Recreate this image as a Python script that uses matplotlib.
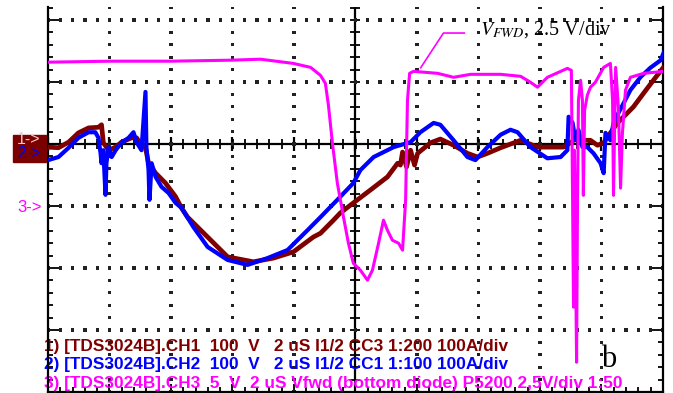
import numpy as np
import matplotlib.pyplot as plt
from matplotlib.patches import Rectangle

plt.rcParams["mathtext.fontset"] = "stix"

# scope settings: 2 us/div, CH1/CH2 100 A/div, CH3 (Vfwd) 2.5 V/div
US_PER_DIV = 2.0
A_PER_DIV = 100.0
V_PER_DIV = 2.5
CH3_ZERO = -1.02  # divisions, where the "3->" marker sits

# CH1 current (dark red), time in us, current in A
t1 = [-10.0, -9.66, -9.33, -9.01, -8.68, -8.36, -8.26, -8.20, -8.03, -7.80, -7.61, -7.28,
      -7.12, -6.96, -6.83, -6.73, -6.50, -6.18, -5.85, -5.66, -5.46, -4.81, -4.16, -3.32,
      -2.67, -2.02, -1.37, -1.14, -0.72, -0.49, -0.07, 0.49, 1.04, 1.37, 1.46, 1.53, 1.66,
      1.79, 1.92, 2.02, 2.44, 2.76, 3.19, 3.64, 3.97, 4.29, 4.72, 5.37, 5.92, 6.76, 6.99,
      7.22, 7.32, 7.64, 7.87, 8.07, 8.29, 8.52, 8.72, 9.04, 9.37, 9.69, 10.02]
i1 = [-5, -6, 3, 18, 26, 27, 31, 2, -10, -5, 3, 10,
      10, -2, -6, -31, -47, -63, -85, -103, -118, -150, -182, -190,
      -184, -174, -150, -144, -123, -111, -95, -74, -53, -31, -34, -13, -37,
      -10, -34, -15, 2, 8, -2, -15, -21, -15, -6, 6, -5, -5, 2,
      11, 6, 6, -2, 2, 18, 34, 44, 60, 82, 103, 124]

# CH2 current (blue)
t2 = [-10.0, -9.66, -9.33, -9.01, -8.68, -8.46, -8.36, -8.29, -8.26, -8.20, -8.13, -8.10,
      -8.03, -7.93, -7.80, -7.61, -7.38, -7.22, -7.12, -6.96, -6.83, -6.80, -6.73, -6.70,
      -6.63, -6.50, -6.31, -6.08, -5.85, -5.66, -5.27, -4.81, -4.16, -3.51, -2.86, -2.21,
      -1.56, -1.14, -0.59, -0.07, 0.16, 0.59, 1.24, 1.79, 2.11, 2.54, 2.76, 3.19, 3.64,
      3.90, 4.29, 4.72, 5.04, 5.27, 5.69, 6.24, 6.67, 6.89, 6.93, 7.06, 7.15, 7.25, 7.38,
      7.54, 7.74, 7.97, 8.07, 8.13, 8.29, 8.39, 8.55, 8.72, 8.94, 9.27, 9.59, 9.92, 10.02]
i2 = [-26, -21, -6, 10, 19, 19, 10, -15, -31, -10, -82, -31,
      -5, -21, -10, 2, 10, 19, 3, -10, 84, -5, -42, -90,
      -31, -53, -69, -79, -95, -103, -134, -166, -187, -195, -184, -171,
      -139, -118, -90, -63, -42, -21, -5, 3, 19, 34, 31, 6, -21,
      -26, -5, 15, 23, 19, -5, -23, -21, -10, 44, 34, 6, 23, -5,
      -5, -15, -31, -47, 18, 6, 34, 50, 66, 87, 108, 123, 135, 147]

# CH3 forward voltage of the bottom diode (magenta), V
t3 = [-10.0, -7.97, -6.02, -4.07, -3.09, -2.02, -1.46, -1.14, -0.98, -0.88, -0.75, -0.59,
      -0.39, -0.23, -0.07, 0.16, 0.39, 0.55, 0.75, 0.91, 1.04, 1.20, 1.40, 1.53, 1.63,
      1.69, 1.76, 1.89, 2.67, 3.19, 3.74, 4.72, 5.37, 5.69, 5.92, 6.24, 6.89, 7.02, 7.06,
      7.09, 7.12, 7.19, 7.22, 7.25, 7.32, 7.38, 7.41, 7.45, 7.54, 7.64, 7.80, 8.07, 8.29,
      8.36, 8.39, 8.46, 8.55, 8.62, 8.68, 8.78, 8.94, 9.37, 10.02]
v3 = [5.85, 5.89, 5.89, 5.93, 5.97, 5.80, 5.64, 5.32, 5.00, 4.11, 2.58, 0.97,
      -0.40, -1.45, -2.26, -2.54, -2.94, -2.54, -1.45, -0.52, -0.93, -1.33, -1.45, -1.73, 0.28,
      4.31, 5.40, 5.48, 5.40, 5.24, 5.36, 5.36, 5.28, 5.04, 4.84, 5.24, 5.60, 5.52, 0.28,
      -4.03, 2.30, -6.25, 0.28, 4.31, 5.12, 4.31, 0.48, 3.91, 4.52, 4.84, 5.04, 5.64, 5.80,
      4.31, 0.48, 5.64, 4.03, 0.77, 2.98, 4.72, 5.24, 5.40, 5.48]

legend_lines = [
    "1) [TDS3024B].CH1  100  V   2 uS I1/2 CC3 1:200 100A/div",
    "2) [TDS3024B].CH2  100  V   2 uS I1/2 CC1 1:100 100A/div",
    "3) [TDS3024B].CH3  5  V  2 uS Vfwd (bottom diode) P5200 2,5V/div 1:50",
]

c_ch1 = "#800000"
c_ch2 = "#0000ff"
c_ch3 = "#ff00ff"

W, H = 673, 393
fig = plt.figure(figsize=(W / 100, H / 100), dpi=100)
ax = fig.add_axes([48 / W, 1 / H, 615 / W, 385 / H])
ax.set_xlim(-5, 5)
ax.set_ylim(-4, 2.21)

# graticule: dotted lines at every division, one dot per minor step
minor = np.arange(-5, 5.001, 0.2)
yminor = np.arange(-4, 2.21, 0.2)
gx, gy = [], []
for g in range(-4, 5):
    if g != 0:
        gx += [g] * len(yminor)
        gy += list(yminor)
for g in range(-3, 3):
    if g != 0:
        gx += list(minor)
        gy += [g] * len(minor)
ax.scatter(gx, gy, s=5.5, marker="s", c="#222222", edgecolors="none", zorder=2.2)

# center cross with ticks
ax.axhline(0, color="k", lw=1.6, zorder=2)
ax.axvline(0, color="k", lw=1.6, zorder=2)
ax.plot(minor, np.zeros(len(minor)), ls="none", marker="|", ms=7, mew=1.3, color="k", zorder=2)
ax.plot(np.zeros(len(yminor)), yminor, ls="none", marker="_", ms=7, mew=1.3, color="k", zorder=2)
ax.plot(np.arange(-5, 6), np.zeros(11), ls="none", marker="|", ms=10, mew=1.6, color="k", zorder=2)

# border ticks
ax.set_xticks(np.arange(-5, 6))
ax.set_xticks(minor, minor=True)
ax.set_yticks(np.arange(-4, 3))
ax.set_yticks(yminor, minor=True)
ax.tick_params(which="both", direction="in", labelbottom=False, labelleft=False,
               left=True, right=True, bottom=True, top=False, width=1.3, color="k")
ax.tick_params(axis="y", which="major", length=8.5)
ax.tick_params(axis="x", which="major", length=6)
ax.tick_params(which="minor", length=3.5)
ax.spines["top"].set_visible(False)
for s in ("left", "right", "bottom"):
    ax.spines[s].set_linewidth(1.6)

# traces, converted to divisions
ax.plot(np.array(t1) / US_PER_DIV, np.array(i1) / A_PER_DIV, color=c_ch1, lw=3.4, zorder=3)
ax.plot(np.array(t2) / US_PER_DIV, np.array(i2) / A_PER_DIV, color=c_ch2, lw=3.0, zorder=3.1)
ax.plot(np.array(t3) / US_PER_DIV, np.array(v3) / V_PER_DIV + CH3_ZERO, color=c_ch3, lw=2.2, zorder=3.2)

# leader line for the Vfwd label
ax.plot([1.06, 1.43, 1.77], [1.23, 1.79, 1.79], color=c_ch3, lw=1.2, zorder=3.2)
ax.text(2.02, 1.85, r"$V_{FWD}$, 2.5 V/div", fontsize=14.5, family="Liberation Serif",
        va="center", ha="left", zorder=4)
ax.text(3.99, -3.47, "b", fontsize=22, family="Liberation Serif", va="center", ha="left", zorder=4)

# channel info lines at the bottom
for k, (line, c) in enumerate(zip(legend_lines, [c_ch1, c_ch2, c_ch3])):
    ax.text(-5.06, -3.26 - 0.30 * k, line, color=c, fontsize=12.4, fontweight="bold",
            family="Liberation Sans", va="center", ha="left", zorder=2.5, clip_on=False)

# channel ground markers on the left
fig.patches.append(Rectangle((13 / W, (H - 162) / H), 33 / W, 27 / H,
                             transform=fig.transFigure, color="#7b0000", zorder=0))
fig.text(17 / W, (H - 140) / H, "1->", color="#f4c8c8", fontsize=11.5, va="center", ha="left",
         family="Liberation Sans")
fig.text(17 / W, (H - 154) / H, "2->", color=c_ch2, fontsize=11.5, va="center", ha="left",
         family="Liberation Sans")
fig.text(17 / W, (H - 207) / H, "3->", color=c_ch3, fontsize=12, va="center", ha="left",
         family="Liberation Sans")

fig.savefig("out.png", dpi=100)
